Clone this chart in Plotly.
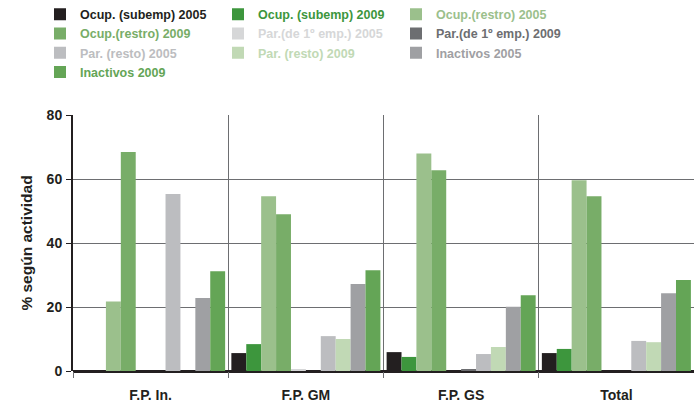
import plotly.graph_objects as go

categorias = ["F.P. In.", "F.P. GM", "F.P. GS", "Total"]

ocup_subemp_2005 = [0, 5.6, 5.9, 5.6]
ocup_subemp_2009 = [0, 8.4, 4.4, 6.9]
ocup_restro_2005 = [21.7, 54.6, 68.0, 59.6]
ocup_restro_2009 = [68.4, 49.0, 62.7, 54.6]
par_1emp_2005 = [0, 0.4, 0, 0]
par_1emp_2009 = [0, 0, 0.5, 0]
par_resto_2005 = [55.3, 10.9, 5.3, 9.4]
par_resto_2009 = [0, 10.0, 7.5, 9.0]
inactivos_2005 = [22.8, 27.2, 20.1, 24.3]
inactivos_2009 = [31.2, 31.5, 23.7, 28.4]

series = [
    ("Ocup. (subemp) 2005", ocup_subemp_2005, "#231f20"),
    ("Ocup. (subemp) 2009", ocup_subemp_2009, "#3d963d"),
    ("Ocup.(restro) 2005", ocup_restro_2005, "#9bc08c"),
    ("Ocup.(restro) 2009", ocup_restro_2009, "#78ad68"),
    ("Par.(de 1º emp.) 2005", par_1emp_2005, "#d6d7d8"),
    ("Par.(de 1º emp.) 2009", par_1emp_2009, "#6d6e71"),
    ("Par. (resto) 2005", par_resto_2005, "#bcbdc0"),
    ("Par. (resto) 2009", par_resto_2009, "#c1d9b5"),
    ("Inactivos 2005", inactivos_2005, "#9fa0a3"),
    ("Inactivos 2009", inactivos_2009, "#64a556"),
]

fig = go.Figure()
for nombre, valores, color in series:
    fig.add_trace(go.Bar(
        x=categorias, y=valores,
        name=f"<b><span style='color:{color}'>{nombre}</span></b>",
        marker=dict(color=color, line=dict(width=0)),
    ))

fig.update_layout(
    width=694, height=405,
    margin=dict(l=73, r=0, t=115, b=34, autoexpand=False),
    plot_bgcolor="white", paper_bgcolor="white",
    barmode="group", bargap=0.04, bargroupgap=0,
    font=dict(family="Liberation Sans", size=12, color="#231f20"),
    legend=dict(
        orientation="h",
        x=(40 - 73) / 621, y=1 + 115.5 / 256, xanchor="left", yanchor="top",
        entrywidth=133, entrywidthmode="pixels",
        font=dict(size=12.5), bgcolor="rgba(0,0,0,0)",
    ),
    showlegend=True,
)

fig.update_xaxes(
    automargin=False,
    tickson="boundaries", showgrid=True, gridcolor="#6d6e71", gridwidth=1,
    ticks="outside", ticklen=6, tickcolor="#6d6e71",
    tickfont=dict(size=14, color="#231f20"), ticklabelstandoff=14,
    tickprefix="<b>", ticksuffix="</b>",
    showline=False, zeroline=False,
)
fig.update_yaxes(
    automargin=False,
    range=[0, 80], dtick=20, showgrid=True, gridcolor="#6d6e71", gridwidth=1,
    ticks="outside", ticklen=5, tickcolor="#231f20",
    tickfont=dict(size=14, color="#231f20"), ticklabelstandoff=1,
    tickprefix="<b>", ticksuffix="</b>",
    showline=True, linecolor="#231f20", linewidth=2,
    zeroline=True, zerolinecolor="#231f20", zerolinewidth=3,
    title=dict(text="<b>% según actividad</b>", font=dict(size=15.5, color="#231f20"), standoff=10),
)

# quitar el margen por defecto del body para que el grafico quede en (0, 0)
fig.write_html("out.html", config={"displayModeBar": False},
               post_script="document.body.style.margin = '0';")
